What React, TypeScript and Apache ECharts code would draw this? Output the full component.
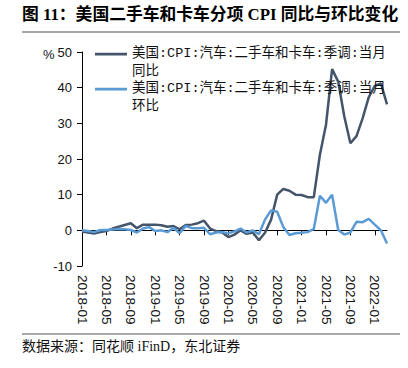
import React, { useEffect, useRef } from "react";
import * as echarts from "echarts";

const categories = [
  "2018-01","2018-02","2018-03","2018-04","2018-05","2018-06","2018-07","2018-08","2018-09","2018-10","2018-11","2018-12",
  "2019-01","2019-02","2019-03","2019-04","2019-05","2019-06","2019-07","2019-08","2019-09","2019-10","2019-11","2019-12",
  "2020-01","2020-02","2020-03","2020-04","2020-05","2020-06","2020-07","2020-08","2020-09","2020-10","2020-11","2020-12",
  "2021-01","2021-02","2021-03","2021-04","2021-05","2021-06","2021-07","2021-08","2021-09","2021-10","2021-11","2021-12",
  "2022-01","2022-02","2022-03",
];

const yoySeries = [
  -0.3, -0.6, -0.9, -0.5, -0.2, 0.5, 1.0, 1.5, 2.0, 0.6, 1.6, 1.6,
  1.6, 1.4, 1.0, 1.2, 0.3, 1.5, 1.6, 2.0, 2.7, 0.5, -0.2, -0.6,
  -1.9, -1.2, 0.0, -1.0, -0.6, -2.8, -0.7, 3.0, 10.0, 11.6, 11.1, 10.0,
  9.9, 9.3, 9.3, 21.2, 29.6, 45.2, 41.7, 31.9, 24.4, 26.4, 31.4, 37.3,
  40.5, 41.2, 35.3,
];

const momSeries = [
  0.0, -0.2, -0.5, 0.1, 0.1, 0.2, 0.4, 0.3, 0.1, -0.6, 0.5, 0.9,
  -0.2, 0.0, -0.5, 0.7, -0.8, 1.2, 0.6, 0.6, 0.7, -1.1, -0.6, -0.5,
  -0.8, -0.3, 0.5, -0.6, 0.0, -1.1, 3.0, 5.6, 5.2, 0.9, -1.3, -0.8,
  -0.7, -0.5, 0.4, 9.7, 7.7, 10.0, 0.1, -1.2, -0.6, 2.4, 2.3, 3.2,
  1.6, 0.0, -3.7,
];

const yTicks = { min: -10, max: 50, interval: 10 };

const NAME_YOY = "美国:CPI:汽车:二手车和卡车:季调:当月同比";
const NAME_MOM = "美国:CPI:汽车:二手车和卡车:季调:当月环比";
const TITLE = "图 11：美国二手车和卡车分项 CPI 同比与环比变化";
const SOURCE = "数据来源：同花顺 iFinD，东北证券";

const legendFont = "'Liberation Mono', 'Noto Sans CJK SC'";
const LH = 18.3;

export default function App() {
  const ref = useRef<HTMLDivElement>(null);
  useEffect(() => {
    if (!ref.current) return;
    const chart = echarts.init(ref.current, null, { renderer: "svg" });
    const legendBase = {
      orient: "vertical",
      left: 90,
      itemWidth: 32,
      itemHeight: 20,
      itemGap: 0,
      icon: "path://M0,0L32,0L32,2.8L0,2.8Z M0,20L32,20",
      symbolKeepAspect: false,
      formatter: (n: string) => n.slice(0, -2) + "\n" + n.slice(-2),
      textStyle: {
        fontFamily: legendFont,
        fontSize: 13.5,
        color: "#111",
        lineHeight: LH,
      },
    };
    chart.setOption({
      animation: false,
      backgroundColor: "#fff",
      grid: { left: 82, right: 21, top: 52, bottom: 102 },
      legend: [
        { ...legendBase, top: 39.5, data: [NAME_YOY] },
        { ...legendBase, top: 74.5, data: [NAME_MOM] },
      ],
      xAxis: [
        {
          type: "category",
          data: categories,
          boundaryGap: false,
          axisLine: { onZero: true, lineStyle: { color: "#000", width: 1 } },
          axisTick: { show: true, interval: 3, length: 5, lineStyle: { color: "#000" } },
          axisLabel: { show: false },
          splitLine: { show: false },
        },
        {
          type: "category",
          data: categories,
          boundaryGap: false,
          position: "bottom",
          axisLine: { show: false, onZero: false },
          axisTick: { show: false },
          axisLabel: {
            interval: 3,
            hideOverlap: false,
            rotate: -90,
            margin: 9,
            fontFamily: "'Liberation Sans', Arial",
            fontSize: 13.5,
            color: "#111",
          },
          splitLine: { show: false },
        },
      ],
      yAxis: {
        type: "value",
        min: yTicks.min,
        max: yTicks.max,
        interval: yTicks.interval,
        axisLine: { show: true, lineStyle: { color: "#000", width: 1 } },
        axisTick: { show: true, length: 5, lineStyle: { color: "#000" } },
        axisLabel: {
          margin: 10,
          fontFamily: "'Liberation Sans', Arial",
          fontSize: 13,
          color: "#111",
        },
        splitLine: { show: false },
      },
      series: [
        {
          name: NAME_YOY,
          type: "line",
          xAxisIndex: 0,
          data: yoySeries,
          symbol: "none",
          lineStyle: { color: "#44546A", width: 2.5 },
          itemStyle: { color: "#44546A" },
        },
        {
          name: NAME_MOM,
          type: "line",
          xAxisIndex: 0,
          data: momSeries,
          symbol: "none",
          lineStyle: { color: "#5B9BD5", width: 2.5 },
          itemStyle: { color: "#5B9BD5" },
        },
      ],
      graphic: [
        {
          type: "text",
          left: 22,
          top: 6,
          style: {
            text: TITLE,
            font: "bold 16.8px 'Liberation Serif', 'Noto Sans CJK SC'",
            fill: "#000",
          },
        },
        {
          type: "line",
          shape: { x1: 22, y1: 32, x2: 400, y2: 32 },
          style: { stroke: "#555", lineWidth: 1.2 },
        },
        {
          type: "text",
          left: 43,
          top: 48,
          style: { text: "%", font: "13px 'Liberation Sans', Arial", fill: "#111" },
        },
        {
          type: "line",
          shape: { x1: 22, y1: 334, x2: 400, y2: 334 },
          style: { stroke: "#555", lineWidth: 1.2 },
        },
        {
          type: "text",
          left: 22,
          top: 339,
          style: {
            text: SOURCE,
            font: "14px 'Liberation Serif', 'Noto Sans CJK SC'",
            fill: "#111",
          },
        },
      ],
    });
    return () => chart.dispose();
  }, []);
  return (
    <div
      ref={ref}
      style={{ position: "fixed", left: 0, top: 0, width: 408, height: 368 }}
    />
  );
}
